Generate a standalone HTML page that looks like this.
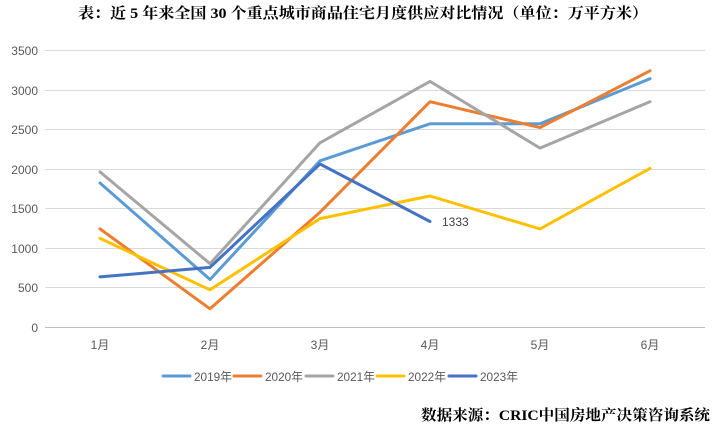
<!DOCTYPE html>
<html><head><meta charset="utf-8"><style>
body{margin:0;background:#fff;}
svg{display:block;font-family:"Liberation Sans","Noto Sans CJK SC",sans-serif;}
</style></head><body>
<svg width="728" height="430" viewBox="0 0 728 430">
<text x="78" y="18" textLength="570" lengthAdjust="spacingAndGlyphs" font-size="15" font-weight="bold" font-family="Liberation Serif,'Noto Serif CJK SC',serif" fill="#000">表：近 5 年来全国 30 个重点城市商品住宅月度供应对比情况（单位：万平方米）</text>
<g stroke="#d9d9d9" stroke-width="1">
<line x1="45" x2="705" y1="50.5" y2="50.5"/><line x1="45" x2="705" y1="90.5" y2="90.5"/><line x1="45" x2="705" y1="129.5" y2="129.5"/><line x1="45" x2="705" y1="169.5" y2="169.5"/><line x1="45" x2="705" y1="208.5" y2="208.5"/><line x1="45" x2="705" y1="248.5" y2="248.5"/><line x1="45" x2="705" y1="287.5" y2="287.5"/>
</g>
<line x1="45" x2="705" y1="327.5" y2="327.5" stroke="#bfbfbf"/>
<g font-size="12" fill="#595959" text-anchor="end">
<text x="38" y="55">3500</text><text x="38" y="95">3000</text><text x="38" y="134">2500</text><text x="38" y="174">2000</text><text x="38" y="213">1500</text><text x="38" y="253">1000</text><text x="38" y="292">500</text><text x="38" y="332">0</text>
</g>
<g font-size="12" fill="#595959" text-anchor="middle">
<text x="100" y="349">1月</text><text x="210" y="349">2月</text><text x="320" y="349">3月</text><text x="430" y="349">4月</text><text x="540" y="349">5月</text><text x="650" y="349">6月</text>
</g>
<g fill="none" stroke-width="3" stroke-linejoin="round" stroke-linecap="round">
<polyline stroke="#5B9BD5" points="100,183 210,279.5 320,160.8 430,123.8 540,123.8 650,78.7"/>
<polyline stroke="#ED7D31" points="100,228.9 210,308.8 320,212.2 430,101.7 540,127.6 650,70.8"/>
<polyline stroke="#A5A5A5" points="100,171.9 210,263.7 320,142.8 430,81.4 540,148.1 650,101.7"/>
<polyline stroke="#FFC000" points="100,238.4 210,289.8 320,218.6 430,196 540,228.9 650,168.4"/>
<polyline stroke="#4472C4" points="100,276.9 210,267.4 320,164 430,221.5"/>
</g>
<text x="442" y="226" font-size="12" fill="#404040">1333</text>
<g stroke-width="3" stroke-linecap="round">
<line x1="163" x2="190" y1="376" y2="376" stroke="#5B9BD5"/>
<line x1="234" x2="261" y1="376" y2="376" stroke="#ED7D31"/>
<line x1="306" x2="333" y1="376" y2="376" stroke="#A5A5A5"/>
<line x1="377" x2="404" y1="376" y2="376" stroke="#FFC000"/>
<line x1="449" x2="476" y1="376" y2="376" stroke="#4472C4"/>
</g>
<g font-size="12" fill="#595959">
<text x="194" y="381" textLength="38" lengthAdjust="spacingAndGlyphs">2019年</text><text x="265" y="381" textLength="38" lengthAdjust="spacingAndGlyphs">2020年</text><text x="337" y="381" textLength="38" lengthAdjust="spacingAndGlyphs">2021年</text><text x="408" y="381" textLength="38" lengthAdjust="spacingAndGlyphs">2022年</text><text x="480" y="381" textLength="38" lengthAdjust="spacingAndGlyphs">2023年</text>
</g>
<text x="421" y="420" textLength="289" lengthAdjust="spacingAndGlyphs" font-size="15" font-weight="bold" font-family="Liberation Serif,'Noto Serif CJK SC',serif" fill="#000">数据来源：CRIC中国房地产决策咨询系统</text>
</svg>
</body></html>
